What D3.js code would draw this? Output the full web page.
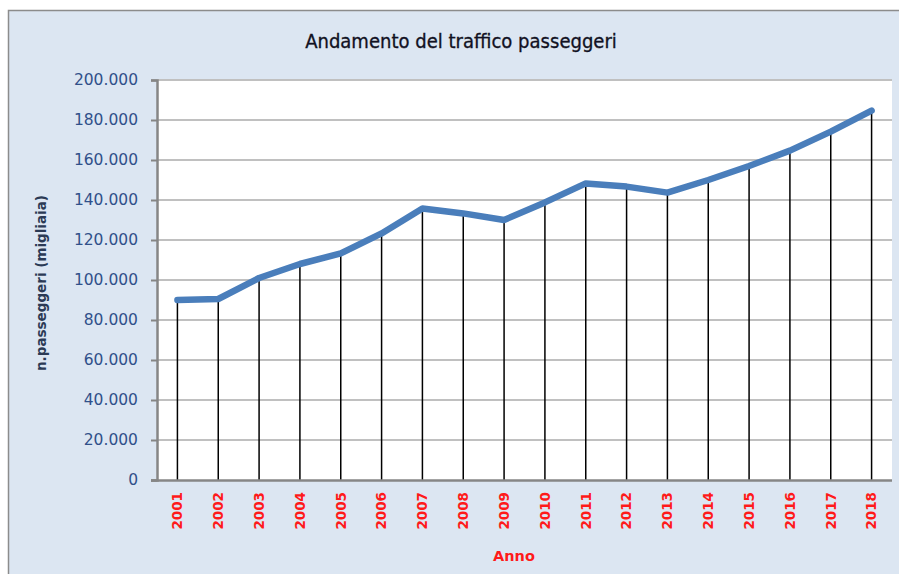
<!DOCTYPE html>
<html><head><meta charset="utf-8">
<script src="https://cdn.jsdelivr.net/npm/d3@7"></script>
<style>body{margin:0;background:#fff;}svg{display:block;}</style>
</head><body>
<svg id="c" width="899" height="574"></svg>
<script>
const years = ["2001","2002","2003","2004","2005","2006","2007","2008","2009","2010","2011","2012","2013","2014","2015","2016","2017","2018"];
const passengers = [90000,90500,101000,108000,113300,123300,135800,133300,130000,138800,148300,146700,143700,150000,157000,164700,174200,184700];
const yTicks = [0,20000,40000,60000,80000,100000,120000,140000,160000,180000,200000];
const title = "Andamento del traffico passeggeri";
const yTitle = "n.passeggeri (migliaia)";
const xTitle = "Anno";

const svg = d3.select("#c");
const fmt = v => v === 0 ? "0" : d3.format(",")(v).replace(/,/g, ".");
const DV = "DejaVu Sans, Verdana, sans-serif";

// chart background
svg.append("rect").attr("x",8.5).attr("y",10.5).attr("width",910).attr("height",580)
  .attr("fill","#dce6f2").attr("stroke","#8c8c8c").attr("stroke-width",1.5);

const L=157, R=892, T=80, B=480;
const x = d3.scaleBand().domain(years).range([L,R]);
const y = d3.scaleLinear().domain([0,200000]).range([B,T]);

svg.append("rect").attr("x",L).attr("y",T).attr("width",R-L).attr("height",B-T).attr("fill","#fff");

// gridlines
svg.append("g").selectAll("line").data(yTicks.filter(d=>d>0)).join("line")
  .attr("x1",L).attr("x2",R).attr("y1",d=>y(d)).attr("y2",d=>y(d))
  .attr("stroke","#c0c0c0").attr("stroke-width",2);

// drop lines
svg.append("g").selectAll("line").data(years).join("line")
  .attr("x1",(d)=>x(d)+x.bandwidth()/2).attr("x2",(d)=>x(d)+x.bandwidth()/2)
  .attr("y1",(d,i)=>y(passengers[i])).attr("y2",B)
  .attr("stroke","#000").attr("stroke-width",1.5);

// y axis
const ya = svg.append("g").attr("transform",`translate(${L},0)`)
  .call(d3.axisLeft(y).tickValues(yTicks).tickFormat(fmt).tickSize(6).tickPadding(13));
ya.select(".domain").attr("stroke","#868686").attr("stroke-width",2.5);
ya.selectAll(".tick line").attr("stroke","#868686").attr("stroke-width",2);
ya.selectAll(".tick text").attr("fill","#30508a").attr("font-family",DV).attr("font-size",15.5);

// x axis
const xa = svg.append("g").attr("transform",`translate(0,${B})`)
  .call(d3.axisBottom(x).tickSize(0).tickPadding(0));
xa.select(".domain").remove();
svg.append("line").attr("x1",L-6).attr("x2",R).attr("y1",B+0.5).attr("y2",B+0.5)
  .attr("stroke","#868686").attr("stroke-width",2.5);
xa.selectAll(".tick text")
  .attr("fill","#ff1a1a").attr("font-family",DV)
  .attr("font-weight","bold").attr("font-size",13.5)
  .attr("text-anchor","end").attr("dy","0.36em")
  .attr("transform","translate(0,12) rotate(-90)").attr("x",0).attr("y",0);

// line
svg.append("path").datum(passengers)
  .attr("d", d3.line().x((d,i)=>x(years[i])+x.bandwidth()/2).y(d=>y(d)))
  .attr("fill","none").attr("stroke","#4a7ebb").attr("stroke-width",6.5)
  .attr("stroke-linejoin","round").attr("stroke-linecap","round");

// titles
const t = svg.append("text").attr("x",461).attr("y",48).attr("text-anchor","middle")
  .attr("font-family","DejaVu Sans Condensed, DejaVu Sans, sans-serif").attr("font-size",17)
  .attr("fill","#111122").attr("stroke","#111122").attr("stroke-width",0.3).text(title);
const w = t.node().getComputedTextLength();
t.attr("font-size", 17*312/w);
svg.append("text").attr("transform","translate(46,283) rotate(-90)").attr("text-anchor","middle")
  .attr("font-family",DV).attr("font-weight","bold").attr("font-size",13.5)
  .attr("fill","#2b3a55").text(yTitle);
svg.append("text").attr("x",514).attr("y",561).attr("text-anchor","middle")
  .attr("font-family",DV).attr("font-weight","bold").attr("font-size",14.5)
  .attr("fill","#ff1a1a").text(xTitle);
</script>
</body></html>
